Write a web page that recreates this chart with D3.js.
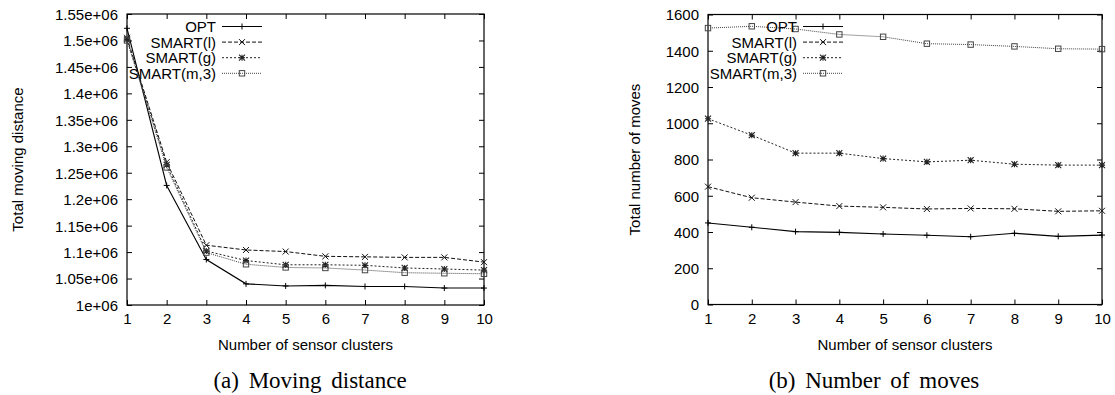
<!DOCTYPE html>
<html><head><meta charset="utf-8">
<script src="https://cdn.jsdelivr.net/npm/d3@7"></script>
<style>
body{margin:0;background:#fff;}
svg{display:block;}
text{font-family:"Liberation Sans",Arial,sans-serif;fill:#000;}
.cap{font-family:"Liberation Serif","Times New Roman",serif;}
</style></head>
<body>
<svg id="c" width="1115" height="395"></svg>
<script>
const clusters = [1,2,3,4,5,6,7,8,9,10];
const seriesNames = ["OPT","SMART(l)","SMART(g)","SMART(m,3)"];

// (a) Total moving distance
const distOPT    = [1523000,1226000,1086000,1040000,1036000,1037000,1035000,1035000,1032000,1032000];
const distSmartL = [1505000,1270000,1113000,1104000,1101000,1092000,1091000,1090000,1090000,1081000];
const distSmartG = [1502000,1265000,1102000,1084000,1076000,1076000,1075000,1070000,1068000,1066000];
const distSmartM = [1500000,1260000,1099000,1077000,1071000,1070000,1066000,1061000,1060000,1059000];
const distTicks  = [1000000,1050000,1100000,1150000,1200000,1250000,1300000,1350000,1400000,1450000,1500000,1550000];
const distTickLabels = ["1e+06","1.05e+06","1.1e+06","1.15e+06","1.2e+06","1.25e+06","1.3e+06","1.35e+06","1.4e+06","1.45e+06","1.5e+06","1.55e+06"];

// (b) Total number of moves
const movesOPT    = [450,426,402,398,389,382,374,393,376,383];
const movesSmartL = [650,589,565,543,536,527,530,528,514,517];
const movesSmartG = [1025,934,835,835,805,787,796,774,769,769];
const movesSmartM = [1525,1535,1520,1490,1477,1439,1434,1424,1411,1409];
const movesTicks  = [0,200,400,600,800,1000,1200,1400,1600];
const movesTickLabels = ["0","200","400","600","800","1000","1200","1400","1600"];

const xLabel = "Number of sensor clusters";

const svg = d3.select("#c");

const styles = [
  {dash:null,    width:1.1, color:"#000", marker:"plus"},
  {dash:"4,2",   width:1.0, color:"#111", marker:"cross"},
  {dash:"2,2",   width:1.0, color:"#222", marker:"star"},
  {dash:"1,1",   width:1.0, color:"#444", marker:"square"}
];

function drawMarker(g, type, x, y, color){
  const s = 3;
  if(type==="plus"){
    g.append("path").attr("d",`M${x-s},${y}H${x+s}M${x},${y-s}V${y+s}`).attr("stroke",color).attr("stroke-width",1).attr("fill","none");
  } else if(type==="cross"){
    g.append("path").attr("d",`M${x-s},${y-s}L${x+s},${y+s}M${x-s},${y+s}L${x+s},${y-s}`).attr("stroke",color).attr("stroke-width",1).attr("fill","none");
  } else if(type==="star"){
    g.append("path").attr("d",`M${x-s},${y}H${x+s}M${x},${y-s}V${y+s}M${x-s},${y-s}L${x+s},${y+s}M${x-s},${y+s}L${x+s},${y-s}`).attr("stroke",color).attr("stroke-width",1.1).attr("fill","none");
  } else {
    g.append("rect").attr("x",x-2.7).attr("y",y-2.7).attr("width",5.4).attr("height",5.4).attr("stroke",color).attr("stroke-width",1).attr("fill","none");
  }
}

function chart(opt){
  const {left,right,top,bottom,series,ticks,tickLabels,yLabel,yLabelX,caption,captionX} = opt;
  const x = d3.scaleLinear().domain([1,10]).range([left,right]);
  const y = d3.scaleLinear().domain([ticks[0],ticks[ticks.length-1]]).range([bottom,top]);
  const g = svg.append("g");

  // border
  g.append("rect").attr("x",left).attr("y",top).attr("width",right-left).attr("height",bottom-top)
    .attr("fill","none").attr("stroke","#000").attr("stroke-width",1.2);

  const tl = 5;
  // axes: left & bottom labelled, top/right mirrored ticks (inward)
  const yAxis = d3.axisLeft(y).tickValues(ticks).tickSize(-tl).tickPadding(9)
      .tickFormat((d,i)=>tickLabels[i]);
  const ga = g.append("g").attr("transform",`translate(${left},0)`).call(yAxis);
  const yAxisR = d3.axisRight(y).tickValues(ticks).tickSize(-tl).tickFormat("");
  const gr = g.append("g").attr("transform",`translate(${right},0)`).call(yAxisR);
  const xAxis = d3.axisBottom(x).tickValues(clusters).tickSize(-tl).tickPadding(10).tickFormat(d3.format("d"));
  const gb = g.append("g").attr("transform",`translate(0,${bottom})`).call(xAxis);
  const xAxisT = d3.axisTop(x).tickValues(clusters).tickSize(-tl).tickFormat("");
  const gt = g.append("g").attr("transform",`translate(0,${top})`).call(xAxisT);
  [ga,gr,gb,gt].forEach(a=>{
    a.select(".domain").remove();
    a.selectAll(".tick line").attr("stroke","#000").attr("stroke-width",1);
    a.selectAll(".tick text").style("font-family","'Liberation Sans',Arial,sans-serif").style("font-size","15px").attr("fill","#000");
  });
  ga.selectAll(".tick text").attr("dy","0.36em");
  gb.selectAll(".tick text").attr("dy","0.6em");

  // lines
  const line = d3.line().x((d,i)=>x(clusters[i])).y(d=>y(d));
  series.forEach((vals,si)=>{
    const st = styles[si];
    g.append("path").datum(vals).attr("d",line).attr("fill","none")
      .attr("stroke",st.color).attr("stroke-width",st.width)
      .attr("stroke-dasharray",st.dash);
    vals.forEach((v,i)=>drawMarker(g, st.marker, x(clusters[i]), y(v), st.color));
  });

  // legend
  seriesNames.forEach((name,si)=>{
    const st = styles[si];
    const ly = 26.5 + si*15.6;
    g.append("text").attr("x",left+89).attr("y",ly).attr("dy","0.36em")
      .attr("text-anchor","end").style("font-size","15px").text(name);
    g.append("line").attr("x1",left+95).attr("x2",left+135).attr("y1",ly).attr("y2",ly)
      .attr("stroke",st.color).attr("stroke-width",st.width).attr("stroke-dasharray",st.dash);
    drawMarker(g, st.marker, left+115, ly, st.color);
  });

  // axis labels
  g.append("text").attr("transform",`translate(${yLabelX},${(top+bottom)/2}) rotate(-90)`)
    .attr("text-anchor","middle").attr("dy","0.36em").style("font-size","15px").text(yLabel);
  g.append("text").attr("x",(left+right)/2).attr("y",350).attr("text-anchor","middle")
    .style("font-size","15px").text(xLabel);
  g.append("text").attr("class","cap").attr("x",captionX).attr("y",388).attr("text-anchor","middle")
    .style("font-size","23px").style("word-spacing","4px").text(caption);
}

chart({left:127,right:484,top:14,bottom:305,
  series:[distOPT,distSmartL,distSmartG,distSmartM],
  ticks:distTicks,tickLabels:distTickLabels,
  yLabel:"Total moving distance",yLabelX:18,
  caption:"(a) Moving distance",captionX:310});

chart({left:708,right:1102,top:14.5,bottom:304.5,
  series:[movesOPT,movesSmartL,movesSmartG,movesSmartM],
  ticks:movesTicks,tickLabels:movesTickLabels,
  yLabel:"Total number of moves",yLabelX:635,
  caption:"(b) Number of moves",captionX:874});
</script>
</body></html>
